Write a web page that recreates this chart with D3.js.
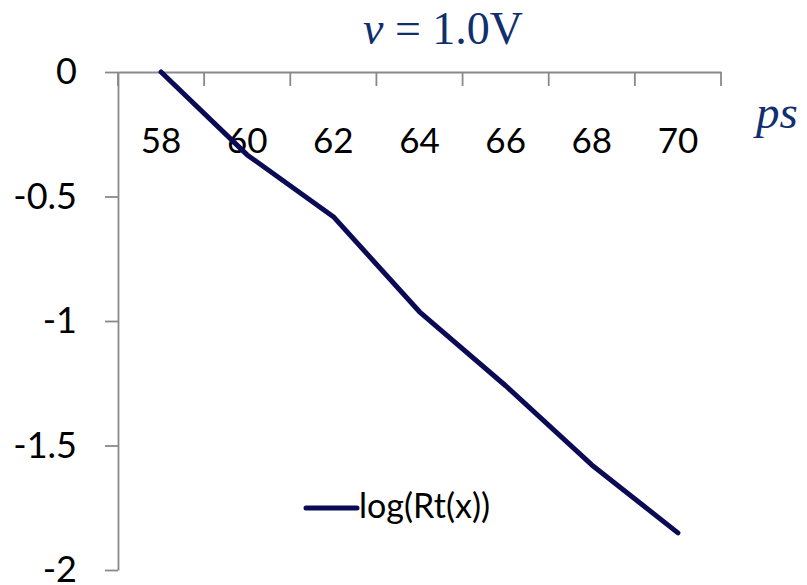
<!DOCTYPE html>
<html>
<head>
<meta charset="utf-8">
<script src="https://cdn.jsdelivr.net/npm/d3@7"></script>
<style>
  html, body { margin: 0; padding: 0; background: #fff; }
  svg { display: block; }
</style>
</head>
<body>
<svg id="chart" width="807" height="585"></svg>
<script>
const categories = ["58", "60", "62", "64", "66", "68", "70"];
const seriesValues = [0, -0.333, -0.581, -0.963, -1.26, -1.578, -1.851];
const yTickValues = [0, -0.5, -1, -1.5, -2];
const yTickLabels = ["0", "-0.5", "-1", "-1.5", "-2"];
const seriesName = "log(Rt(x))";

const svg = d3.select("#chart");
const axisColor = "#898989";
const lineColor = "#0b0b55";
const titleColor = "#112e6e";
const labelFont = "Lato, 'Open Sans', sans-serif";

const x = d3.scaleBand().domain(categories).range([118, 721]).paddingInner(0).paddingOuter(0);
const y = d3.scaleLinear().domain([0, -2]).range([72, 570]);

// Y axis
const yAxis = svg.append("g")
  .attr("transform", "translate(118,0)")
  .call(d3.axisLeft(y).tickValues(yTickValues).tickSize(13).tickSizeOuter(0).tickPadding(28)
    .tickFormat((d, i) => yTickLabels[i]));
yAxis.select(".domain").attr("stroke", axisColor).attr("stroke-width", 1.8);
yAxis.selectAll(".tick line").attr("stroke", axisColor).attr("stroke-width", 1.8);
yAxis.selectAll(".tick text").attr("fill", "#000").style("font-family", labelFont).style("font-size", "36px");

// X axis (at y = 0), labels centred in each category band
const xAxis = svg.append("g")
  .attr("transform", `translate(0,${y(0)})`)
  .call(d3.axisBottom(x).tickSize(0).tickSizeOuter(0).tickPadding(56));
xAxis.select(".domain").attr("stroke", axisColor).attr("stroke-width", 1.8);
xAxis.selectAll(".tick text").attr("fill", "#000").style("font-family", labelFont).style("font-size", "35px");

// category boundary tick marks
const boundaries = categories.map(c => x(c)).concat([x.range()[1]]);
xAxis.selectAll("line.bound").data(boundaries).enter().append("line")
  .attr("class", "bound")
  .attr("x1", d => d).attr("x2", d => d)
  .attr("y1", 0).attr("y2", 14)
  .attr("stroke", axisColor).attr("stroke-width", 1.8);

// Series line
const line = d3.line()
  .x((d, i) => x(categories[i]) + x.bandwidth() / 2)
  .y(d => y(d));
svg.append("path")
  .datum(seriesValues)
  .attr("d", line)
  .attr("fill", "none")
  .attr("stroke", lineColor)
  .attr("stroke-width", 5)
  .attr("stroke-linejoin", "round")
  .attr("stroke-linecap", "round");

// Title
const title = svg.append("text")
  .attr("x", 443).attr("y", 44)
  .attr("text-anchor", "middle")
  .attr("fill", titleColor)
  .style("font-family", "'Liberation Serif', 'Times New Roman', serif")
  .style("font-size", "46px");
title.append("tspan").style("font-style", "italic").text("v");
title.append("tspan").text(" = 1.0V");

// Axis unit
svg.append("text")
  .attr("x", 756).attr("y", 128)
  .attr("fill", titleColor)
  .style("font-family", "'Liberation Serif', 'Times New Roman', serif")
  .style("font-style", "italic")
  .style("font-size", "47px")
  .text("ps");

// Legend
const legend = svg.append("g");
legend.append("line")
  .attr("x1", 306).attr("x2", 357)
  .attr("y1", 508).attr("y2", 508)
  .attr("stroke", lineColor).attr("stroke-width", 5).attr("stroke-linecap", "round");
legend.append("text")
  .attr("x", 359).attr("y", 518)
  .attr("fill", "#000")
  .style("font-family", labelFont)
  .style("font-size", "34px")
  .text(seriesName);
</script>
</body>
</html>
